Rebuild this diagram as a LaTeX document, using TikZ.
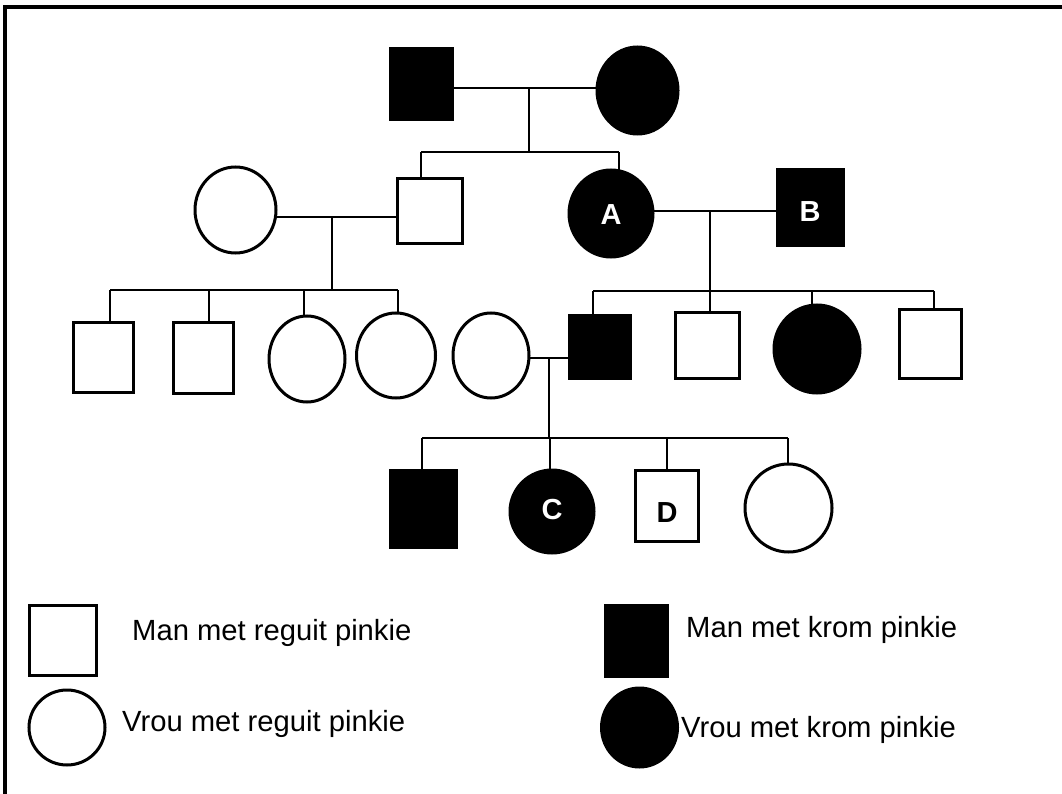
\documentclass[tikz,border=0pt]{standalone}
\usepackage{fontspec}
\setmainfont{Liberation Sans}
\usetikzlibrary{shapes.geometric,backgrounds}
\begin{document}
\begin{tikzpicture}[x=1pt,y=-1pt,
  person/.style={line width=3pt, inner sep=0pt, outer sep=0pt, draw=black},
  openm/.style={person, rectangle, fill=white},
  affm/.style={person, rectangle, fill=black},
  openf/.style={person, ellipse, fill=white},
  afff/.style={person, ellipse, fill=black},
  sz/.style 2 args={minimum width=#1pt, minimum height=#2pt},
  tag/.style={font=\fontsize{29}{30}\selectfont\bfseries, inner sep=0pt},
  link/.style={line width=2pt},
  key/.style={font=\fontsize{29.2}{31}\selectfont, anchor=base west, inner sep=0pt}]

\useasboundingbox (0,0) rectangle (1062,794);

% frame
\draw[line width=3.8pt] (5,794) -- (5,7) -- (1062,7);

% generation I
\node[affm, sz={62}{71}] (g1m) at (421,84.5) {};
\node[afff, sz={81}{87}] (g1f) at (637.5,90.5) {};

% generation II
\node[openf, sz={81}{86}] (g2a) at (235.5,210) {};
\node[openm, sz={65}{65}] (g2b) at (429.5,211.5) {};
\node[afff, sz={84}{87}] (A) at (611,213.5) {};
\node[affm, sz={66}{76}] (B) at (810,208) {};

% generation III
\node[openm, sz={60}{70}] (c1) at (103,357) {};
\node[openm, sz={60}{71}] (c2) at (203,357.5) {};
\node[openf, sz={76}{86}] (c3) at (307,359) {};
\node[openf, sz={79}{85}] (c4) at (396,355.5) {};
\node[openf, sz={76}{85}] (s3) at (491,355.5) {};
\node[affm, sz={61}{63}] (c5) at (599.5,346.5) {};
\node[openm, sz={64}{66}] (c6) at (707,345) {};
\node[afff, sz={86}{88}] (c7) at (817,349) {};
\node[openm, sz={62}{69}] (c8) at (930,343.5) {};

% generation IV
\node[affm, sz={66}{77}] (d1) at (423,508.5) {};
\node[afff, sz={84}{83}] (C) at (552,511.5) {};
\node[openm, sz={63}{71}] (D) at (667,506) {};
\node[openf, sz={87}{88}] (d4) at (788.5,508) {};

% letters on the marked individuals
\node[tag, text=white] (lA) at ([yshift=-1pt]A.center) {A};
\node[tag, text=white] (lB) at ([yshift=-3.5pt]B.center) {B};
\node[tag, text=white] (lC) at ([yshift=1.5pt]C.center) {C};
\node[tag] (lD) at ([yshift=-7pt]D.center) {D};

% key
\node[openm, sz={67}{70}] (k1) at (62.5,640) {};
\node[openf, sz={76}{75}] (k2) at (67,727.5) {};
\node[affm, sz={62}{71}] (k3) at (636,640.5) {};
\node[afff, sz={76}{79}] (k4) at (639.5,727.5) {};
\node[key] (t1) at (132,640) {Man met reguit pinkie};
\node[key] (t2) at (122,731) {Vrou met reguit pinkie};
\node[key] (t3) at (686,637) {Man met krom pinkie};
\node[key] (t4) at (681,737) {Vrou met krom pinkie};

\begin{scope}[on background layer]
  \fill[white] (0,0) rectangle (1062,794);

  % couple I and its children
  \coordinate (m1) at (529,88);
  \coordinate (b1l) at (421,152);
  \coordinate (b1r) at (619,152);
  \draw[link] (g1m.center |- m1) -- (g1f.center |- m1);
  \draw[link] (m1) -- (m1 |- b1l);
  \draw[link] (b1l) -- (b1r);
  \draw[link] (b1l) -- (b1l |- g2b.center);
  \draw[link] (b1r) -- (b1r |- A.center);

  % left couple II and its children
  \coordinate (m2) at (332,217);
  \coordinate (b2l) at (110,290);
  \coordinate (b2r) at (398,290);
  \draw[link] (g2a.center |- m2) -- (g2b.center |- m2);
  \draw[link] (m2) -- (m2 |- b2l);
  \draw[link] (b2l) -- (b2r);
  \foreach \x/\n in {110/c1, 209/c2, 304/c3, 398/c4}
    \draw[link] (\x,290) -- (\x,290 |- \n.center);

  % right couple II (A and B) and their children
  \coordinate (m3) at (710,211);
  \coordinate (b3l) at (593,291);
  \coordinate (b3r) at (933.6,291);
  \draw[link] (A.center |- m3) -- (B.center |- m3);
  \draw[link] (m3) -- (m3 |- b3l);
  \draw[link] (b3l) -- (b3r);
  \foreach \x/\n in {593/c5, 710/c6, 811.6/c7, 933.6/c8}
    \draw[link] (\x,291) -- (\x,291 |- \n.center);

  % couple III and its children
  \coordinate (m4) at (549,358);
  \coordinate (b4l) at (422,438);
  \coordinate (b4r) at (788,438);
  \draw[link] (s3.center |- m4) -- (c5.center |- m4);
  \draw[link] (m4) -- (m4 |- b4l);
  \draw[link] (b4l) -- (b4r);
  \foreach \x/\n in {422/d1, 550/C, 667/D, 788/d4}
    \draw[link] (\x,438) -- (\x,438 |- \n.center);
\end{scope}
\end{tikzpicture}
\end{document}
